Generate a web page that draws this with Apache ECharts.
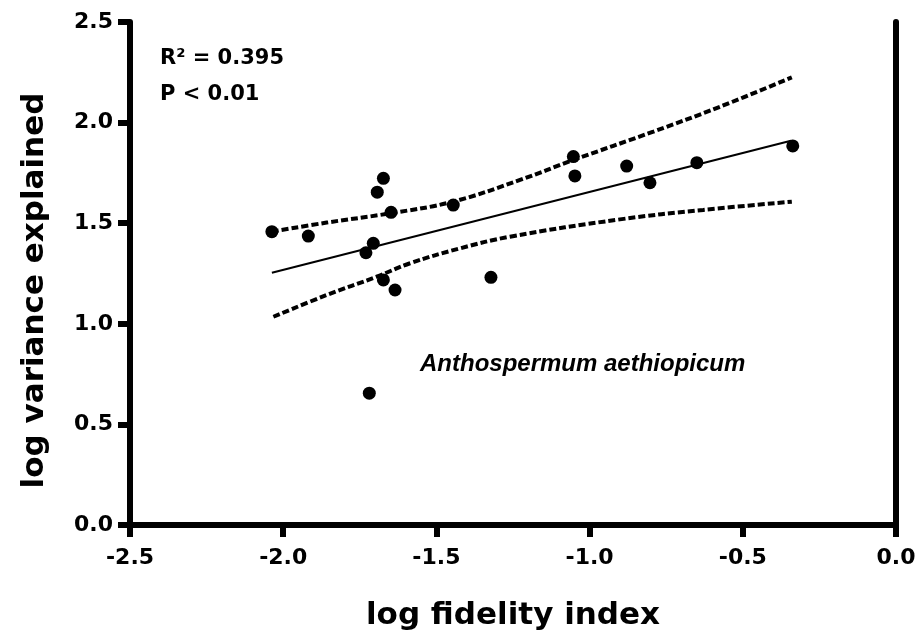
<!DOCTYPE html>
<html>
<head>
<meta charset="utf-8">
<script src="https://cdn.jsdelivr.net/npm/echarts@6/dist/echarts.min.js"></script>
<style>
  html, body { margin: 0; padding: 0; background: #fff; }
  #chart { width: 919px; height: 641px; }
</style>
</head>
<body>
<div id="chart"></div>
<script>
// observed points (log fidelity index, log variance explained)
const fidelity = [-2.037, -1.918, -1.693, -1.673, -1.648, -1.706, -1.730, -1.673, -1.635,
  -1.445, -1.322, -1.053, -1.048, -0.879, -0.803, -0.650, -0.337, -1.719];
const variance = [1.458, 1.436, 1.654, 1.723, 1.554, 1.400, 1.353, 1.218, 1.168,
  1.590, 1.231, 1.831, 1.735, 1.784, 1.701, 1.801, 1.884, 0.655];

// fitted line end points
const fitX = [-2.037, -0.343];
const fitY = [1.254, 1.910];

// confidence band
const upperX = [-2.037, -1.858, -1.651, -1.446, -1.227, -1.053, -0.792, -0.574, -0.340];
const upperY = [1.458, 1.503, 1.549, 1.607, 1.715, 1.814, 1.955, 2.079, 2.225];
const lowerX = [-2.032, -1.858, -1.695, -1.586, -1.423, -1.260, -0.901, -0.629, -0.340];
const lowerY = [1.035, 1.143, 1.234, 1.301, 1.375, 1.433, 1.519, 1.566, 1.607];

const xTicks = [-2.5, -2.0, -1.5, -1.0, -0.5, 0.0];
const yTicks = [0.0, 0.5, 1.0, 1.5, 2.0, 2.5];

const pairs = (xs, ys) => xs.map((x, i) => [x, ys[i]]);

const bold = "DejaVu Sans";
const black = "#000";

let myChart = echarts.init(document.getElementById("chart"));

const frameAxis = {
  axisLine: { show: true, lineStyle: { color: black, width: 6 } },
  axisTick: { show: false },
  axisLabel: { show: false },
  splitLine: { show: false },
};

myChart.setOption({
  animation: false,
  backgroundColor: "#fff",
  grid: { left: 130, right: 23, top: 22, bottom: 116 },
  title: [
    {
      text: "R\u00b2 = 0.395\nP < 0.01",
      left: 155,
      top: 36,
      textStyle: { fontFamily: bold, fontWeight: "bold", fontSize: 21, lineHeight: 36, color: black },
    },
    {
      text: "Anthospermum aethiopicum",
      left: 415,
      top: 347,
      textStyle: { fontFamily: "Liberation Sans", fontStyle: "italic", fontWeight: "bold", fontSize: 24, color: black },
    },
  ],
  xAxis: [
    {
      type: "value",
      min: xTicks[0],
      max: xTicks[xTicks.length - 1],
      interval: 0.5,
      name: "log fidelity index",
      nameLocation: "middle",
      nameGap: 75,
      nameTextStyle: { fontFamily: bold, fontWeight: "bold", fontSize: 31, color: black },
      axisLine: { onZero: false, lineStyle: { color: black, width: 6 } },
      axisTick: { show: true, length: 12, lineStyle: { color: black, width: 6 } },
      axisLabel: {
        margin: 22,
        fontFamily: bold, fontWeight: "bold", fontSize: 22, color: black,
        formatter: (v) => v.toFixed(1),
      },
      splitLine: { show: false },
    },
    Object.assign({ type: "value", position: "top", min: xTicks[0], max: 0 }, frameAxis),
  ],
  yAxis: [
    {
      type: "value",
      min: yTicks[0],
      max: yTicks[yTicks.length - 1],
      interval: 0.5,
      name: "log variance explained",
      nameLocation: "middle",
      nameGap: 80,
      nameTextStyle: {
        fontFamily: bold, fontWeight: "bold", fontSize: 31, color: black,
        padding: [0, 34, 0, 0],
      },
      axisLine: { onZero: false, lineStyle: { color: black, width: 6 } },
      axisTick: { show: true, length: 12, lineStyle: { color: black, width: 6 } },
      axisLabel: {
        margin: 17,
        fontFamily: bold, fontWeight: "bold", fontSize: 22, color: black,
        formatter: (v) => v.toFixed(1),
      },
      splitLine: { show: false },
    },
    Object.assign({ type: "value", position: "right", min: 0, max: yTicks[yTicks.length - 1] }, frameAxis),
  ],
  series: [
    {
      name: "upper",
      type: "line",
      data: pairs(upperX, upperY),
      smooth: 0.4,
      showSymbol: false,
      lineStyle: { color: black, width: 4, type: [7, 3] },
      z: 2,
    },
    {
      name: "lower",
      type: "line",
      data: pairs(lowerX, lowerY),
      smooth: 0.4,
      showSymbol: false,
      lineStyle: { color: black, width: 4, type: [7, 3] },
      z: 2,
    },
    {
      name: "fit",
      type: "line",
      data: pairs(fitX, fitY),
      showSymbol: false,
      lineStyle: { color: black, width: 2 },
      z: 2,
    },
    {
      name: "points",
      type: "scatter",
      data: pairs(fidelity, variance),
      symbol: "circle",
      symbolSize: 13,
      itemStyle: { color: black, opacity: 1 },
      z: 3,
    },
  ],
});
</script>
</body>
</html>
